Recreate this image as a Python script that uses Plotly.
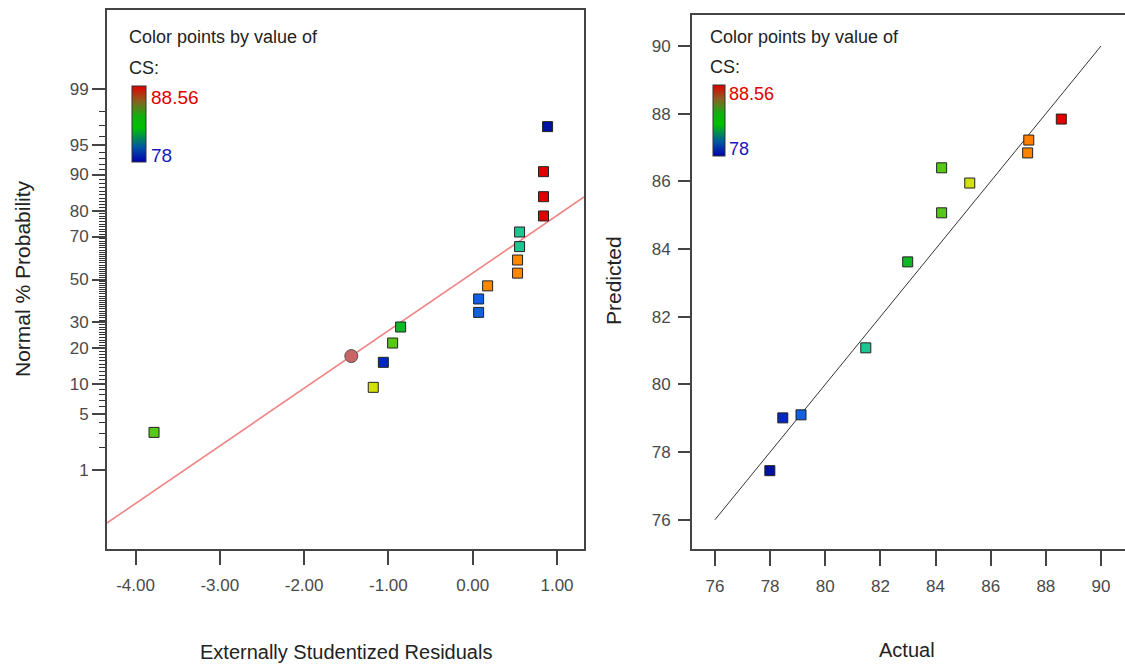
import plotly.graph_objects as go
from statistics import NormalDist

# ---------------- data ----------------
# Left panel: normal probability plot of externally studentized residuals
resid = [-3.78, -1.18, -1.06, -0.95, -0.855, 0.07, 0.07, 0.177, 0.532, 0.532,
         0.556, 0.556, 0.84, 0.84, 0.84, 0.888]
prob_pct = [3.1, 9.4, 15.6, 21.9, 28.1, 34.4, 40.6, 46.9, 53.1, 59.4,
            65.6, 71.9, 78.1, 84.4, 90.6, 96.9]
resid_cs = [84.22, 85.24, 78.46, 84.22, 82.99, 79.12, 79.12, 87.3, 87.3, 87.3,
            81.47, 81.47, 88.56, 88.56, 88.56, 78.0]
cursor_resid = [-1.44]
cursor_pct = [17.5]
ref_line_resid = [-4.34, 1.32]
ref_line_pct = [0.147, 84.3]
prob_ticks = [1, 5, 10, 20, 30, 50, 70, 80, 90, 95, 99]
resid_ticks = [-4, -3, -2, -1, 0, 1]
resid_ticktext = ["-4.00", "-3.00", "-2.00", "-1.00", "0.00", "1.00"]

# Right panel: predicted vs actual
actual = [77.99, 78.46, 79.12, 81.47, 82.99, 84.22, 84.22, 85.24, 87.34, 87.38, 88.56]
predicted = [77.45, 79.01, 79.10, 81.08, 83.62, 85.07, 86.40, 85.95, 86.84, 87.22, 87.84]
diag_line = [76, 90]
pa_ticks = [76, 78, 80, 82, 84, 86, 88, 90]

cs_min, cs_max = 78.0, 88.56

# ---------------- styles ----------------
W, H = 1125, 669
TICK_FONT = "Liberation Sans Narrow, Arial Narrow, Liberation Sans, Arial, sans-serif"
TEXT_FONT = "Liberation Sans, Arial, sans-serif"
AX = "#444444"
TICKLBL = "#4a4a4a"

point_scale = [[0.0, "#0010a0"], [0.0436, "#0028c0"], [0.106, "#1060e0"],
               [0.329, "#18c890"], [0.4725, "#10b828"], [0.589, "#58c818"],
               [0.686, "#d4e010"], [0.881, "#ff8800"], [1.0, "#e00000"]]
legend_scale = [[0.0, "#0000b0"], [0.2, "#0058a0"], [0.45, "#00c000"],
                [0.6, "#10b010"], [0.8, "#8a6020"], [1.0, "#e00000"]]

nd = NormalDist()
def zq(p):
    return nd.inv_cdf(p / 100.0)

def px_x(px):
    return px / W

def px_y(py):
    return 1 - py / H

fig = go.Figure()

# ---- left panel ----
fig.add_trace(go.Scatter(
    x=ref_line_resid, y=[zq(p) for p in ref_line_pct], mode="lines",
    line=dict(color="#f08484", width=1.6), xaxis="x", yaxis="y",
    hoverinfo="skip", showlegend=False))
fig.add_trace(go.Scatter(
    x=resid, y=[zq(p) for p in prob_pct], mode="markers",
    marker=dict(symbol="square", size=10, color=resid_cs, colorscale=point_scale,
                cmin=cs_min, cmax=cs_max, line=dict(color="#222222", width=1)),
    xaxis="x", yaxis="y", showlegend=False))
fig.add_trace(go.Scatter(
    x=cursor_resid, y=[zq(p) for p in cursor_pct], mode="markers",
    marker=dict(symbol="circle", size=13, color="#c86666",
                line=dict(color="#555555", width=1)),
    xaxis="x", yaxis="y", showlegend=False))

# ---- right panel ----
fig.add_trace(go.Scatter(
    x=diag_line, y=diag_line, mode="lines", line=dict(color="#333333", width=1),
    xaxis="x2", yaxis="y2", hoverinfo="skip", showlegend=False))
fig.add_trace(go.Scatter(
    x=actual, y=predicted, mode="markers",
    marker=dict(symbol="square", size=10, color=actual, colorscale=point_scale,
                cmin=cs_min, cmax=cs_max, line=dict(color="#222222", width=1)),
    xaxis="x2", yaxis="y2", showlegend=False))

# ---- legend colour bars (dummy traces) ----
def legend_bar(x_px, top_px, len_px, thick, xa, ya):
    fig.add_trace(go.Scatter(
        x=[None, None], y=[None, None], mode="markers", xaxis=xa, yaxis=ya,
        marker=dict(color=[cs_min, cs_max], colorscale=legend_scale, cmin=cs_min,
                    cmax=cs_max, showscale=True,
                    colorbar=dict(x=px_x(x_px), xanchor="left", y=px_y(top_px),
                                  yanchor="top", len=len_px, lenmode="pixels",
                                  thickness=thick, thicknessmode="pixels",
                                  xpad=0, ypad=0, outlinewidth=1, outlinecolor="#333",
                                  showticklabels=False, ticks="")),
        showlegend=False, hoverinfo="skip"))

legend_bar(132, 86, 76, 14, "x", "y")
legend_bar(713, 85, 71, 12, "x2", "y2")

# ---------------- axes ----------------
minor_pcts = [p for p in range(2, 99) if p not in prob_ticks]

def axis_style(mirror=True):
    return dict(showgrid=False, zeroline=False, showline=True, linecolor=AX,
                linewidth=2, mirror=mirror, ticks="outside", tickcolor=AX,
                tickwidth=1.5, tickfont=dict(family=TICK_FONT, size=17, color=TICKLBL))

fig.update_layout(
    width=W, height=H, margin=dict(l=0, r=0, t=0, b=0),
    paper_bgcolor="white", plot_bgcolor="white",
    xaxis=dict(domain=[px_x(107), px_x(584)], range=[-4.338, 1.32],
               tickmode="array", tickvals=resid_ticks, ticktext=resid_ticktext,
               ticklen=14, ticklabelstandoff=6, anchor="y", **axis_style()),
    yaxis=dict(domain=[px_y(549), px_y(10)], range=[-3.29, 3.29],
               tickmode="array", tickvals=[zq(p) for p in prob_ticks],
               ticktext=[str(p) for p in prob_ticks], ticklen=13,
               minor=dict(tickvals=[zq(p) for p in minor_pcts], ticklen=6,
                          ticks="outside", tickcolor="#333333", tickwidth=1.2),
               anchor="x", **axis_style()),
    xaxis2=dict(domain=[px_x(692), 1.0], range=[75.167, 90.87],
                tickmode="array", tickvals=pa_ticks, ticklen=15,
                ticklabelstandoff=6, anchor="y2", **axis_style()),
    yaxis2=dict(domain=[px_y(549), px_y(15.3)], range=[75.135, 90.907],
                tickmode="array", tickvals=pa_ticks, ticklen=12,
                ticklabelstandoff=4, anchor="x2", **axis_style(mirror=False)),
)

# ---------------- text ----------------
def ann(text, x_px, y_px, size, color="#222222", xanchor="left", angle=0, family=TEXT_FONT):
    fig.add_annotation(text=text, x=px_x(x_px), y=px_y(y_px), xref="paper", yref="paper",
                       xanchor=xanchor, yanchor="middle", showarrow=False,
                       textangle=angle, font=dict(family=family, size=size, color=color))

ann("Color points by value of", 127, 37, 18)
ann("CS:", 127, 68, 18)
ann("88.56", 149, 97, 19, color="#e00000")
ann("78", 149, 155, 19, color="#1818c0")

ann("Color points by value of", 708, 37, 18)
ann("CS:", 708, 67, 18)
ann("88.56", 727, 94, 18, color="#e00000")
ann("78", 727, 149, 18, color="#1818c0")

ann("Externally Studentized Residuals", 346, 652, 20, xanchor="center")
ann("Actual", 907, 650, 20, xanchor="center")
ann("Normal % Probability", 22, 279, 21, xanchor="center", angle=-90)
ann("Predicted", 613, 281, 21, xanchor="center", angle=-90)

fig.write_html("out.html")
